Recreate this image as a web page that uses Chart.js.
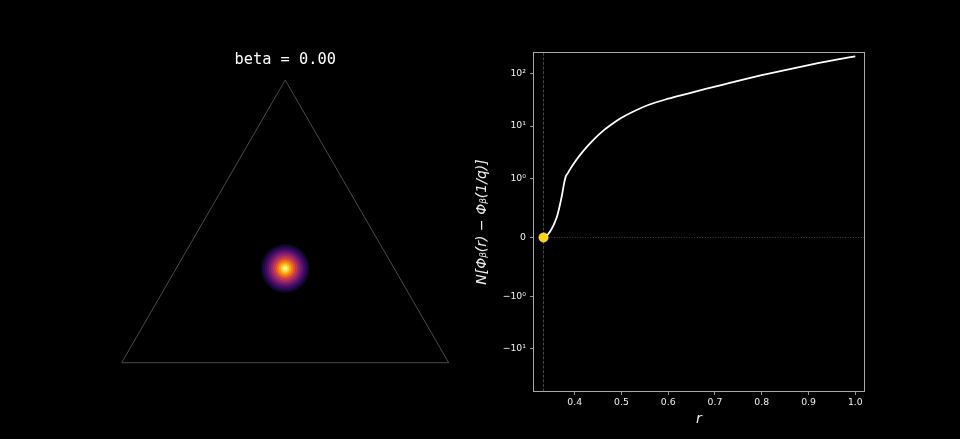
<!DOCTYPE html>
<html><head><meta charset="utf-8">
<script src="https://cdn.jsdelivr.net/npm/chart.js@4/dist/chart.umd.min.js"></script>
<style>
html,body{margin:0;padding:0;background:#000;width:960px;height:439px;overflow:hidden}
canvas{position:absolute;left:0;top:0}
</style></head><body>
<canvas id="left" width="960" height="439"></canvas>
<canvas id="right" width="960" height="439"></canvas>
<script>
// ---------- data ----------
const betaTitle = 'beta = 0.00';
// simplex (ternary) outline
const simplexX = [0, 1, 0.5, 0];
const simplexY = [0, 0, 0.866, 0];
// density blob on the simplex (radial profile)
const blobCenterX = 0.5, blobCenterY = 0.2887;
const blobRadius = [0.074, 0.068, 0.062, 0.056, 0.050, 0.044, 0.038, 0.031, 0.025, 0.019, 0.013, 0.007];
const blobLevel  = [0.07, 0.13, 0.19, 0.26, 0.33, 0.41, 0.50, 0.60, 0.70, 0.80, 0.89, 0.97];

// right panel curve
const rValues = [0.3333, 0.338, 0.343, 0.348, 0.353, 0.358, 0.363, 0.368, 0.373, 0.3775, 0.3808, 0.385, 0.390, 0.400, 0.410, 0.425, 0.440, 0.460, 0.480, 0.500, 0.530, 0.560, 0.600, 0.640, 0.680, 0.720, 0.760, 0.800, 0.840, 0.880, 0.920, 0.960, 1.000];
const phiDiff = [0, 0.02, 0.055, 0.11, 0.18, 0.27, 0.38, 0.54, 0.73, 0.93, 1.10, 1.27, 1.51, 2.06, 2.72, 3.93, 5.48, 8.01, 10.9, 14.3, 19.7, 25.6, 32.9, 40.8, 50.3, 61.8, 75.7, 91.8, 110, 131, 155, 181, 209];
const refR = 1 / 3;          // r = 1/q
const refValue = 0;
const xTicks = [0.4, 0.5, 0.6, 0.7, 0.8, 0.9, 1.0];
const yTicks = [-10, -1, 0, 1, 10, 100];
const yTickLabels = ['\u221210\u00b9', '\u221210\u2070', '0', '10\u2070', '10\u00b9', '10\u00b2'];
const xMin = 0.3119, xMax = 1.0197, yMin = -63.9, yMax = 247;

// ---------- helpers ----------
const infernoStops = [[0,'#000004'],[0.1,'#160b39'],[0.2,'#420a68'],[0.3,'#6a176e'],[0.4,'#932667'],[0.5,'#bc3754'],[0.6,'#dd513a'],[0.7,'#f37819'],[0.8,'#fca50a'],[0.9,'#f6d746'],[1,'#fcffa4']];
function hex2rgb(h){return [parseInt(h.slice(1,3),16),parseInt(h.slice(3,5),16),parseInt(h.slice(5,7),16)];}
function inferno(t){
  t = Math.max(0, Math.min(1, t));
  for (let i = 1; i < infernoStops.length; i++) {
    if (t <= infernoStops[i][0]) {
      const [t0,c0] = infernoStops[i-1], [t1,c1] = infernoStops[i];
      const f = (t - t0) / (t1 - t0), a = hex2rgb(c0), b = hex2rgb(c1);
      return 'rgb(' + a.map((v,k)=>Math.round(v + (b[k]-v)*f)).join(',') + ')';
    }
  }
  return infernoStops[infernoStops.length-1][1];
}

// symlog transform (linthresh = 1, linscale = 1, base 10) as matplotlib
const LINSCALE_ADJ = 1 / (1 - 1/10);
function symT(v){ const a = Math.abs(v); return a <= 1 ? v * LINSCALE_ADJ : Math.sign(v) * (LINSCALE_ADJ + Math.log10(a)); }
function symInv(t){ const a = Math.abs(t); return a <= LINSCALE_ADJ ? t / LINSCALE_ADJ : Math.sign(t) * Math.pow(10, a - LINSCALE_ADJ); }

class SymlogScale extends Chart.LinearScale {
  static id = 'symlog';
  static defaults = Chart.LinearScale.defaults;
  buildTicks(){ return yTicks.map(v => ({value: v})); }
  configure(){ super.configure(); this._t0 = symT(this.min); this._t1 = symT(this.max); }
  getPixelForValue(v){ return this.getPixelForDecimal((symT(v) - this._t0) / (this._t1 - this._t0)); }
  getValueForPixel(p){ return symInv(this._t0 + this.getDecimalForPixel(p) * (this._t1 - this._t0)); }
}
Chart.register(SymlogScale);

Chart.defaults.font.family = 'DejaVu Sans';
Chart.defaults.color = '#eeeeee';
Chart.defaults.animation = false;

// ---------- left panel ----------
new Chart(document.getElementById('left'), {
  type: 'scatter',
  data: {
    datasets: [
      {
        label: 'blob',
        data: blobRadius.map(() => ({x: blobCenterX, y: blobCenterY})),
        pointRadius: ctx => {
          const s = ctx.chart.scales.x;
          return s.getPixelForValue(blobCenterX + blobRadius[ctx.dataIndex]) - s.getPixelForValue(blobCenterX);
        },
        pointHoverRadius: 0,
        pointBackgroundColor: ctx => inferno(blobLevel[ctx.dataIndex]),
        pointBorderWidth: 0,
        order: 2
      },
      {
        label: 'simplex',
        data: simplexX.map((x, i) => ({x, y: simplexY[i]})),
        showLine: true,
        borderColor: '#4a4a4a',
        borderWidth: 1,
        pointRadius: 0,
        clip: false,
        order: 1
      }
    ]
  },
  options: {
    responsive: false,
    layout: { padding: { left: 121.7, right: 511.3, top: 40, bottom: 76.3 } },
    scales: {
      x: { type: 'linear', min: 0, max: 1, display: false },
      y: { type: 'linear', min: 0, max: 0.866, display: false }
    },
    plugins: {
      legend: { display: false },
      tooltip: { enabled: false },
      title: {
        display: true, text: betaTitle, color: '#ffffff',
        font: { family: 'DejaVu Sans Mono', size: 15.3, weight: 'normal', lineHeight: 1.2 },
        padding: { top: 10.6, bottom: 11.04 }
      }
    }
  }
});

// ---------- right panel ----------
const framePlugin = {
  id: 'frame',
  afterDatasetsDraw(chart) {
    const {ctx, chartArea: a} = chart;
    ctx.save();
    ctx.strokeStyle = '#a8a8a8';
    ctx.lineWidth = 1;
    ctx.strokeRect(a.left, a.top, a.right - a.left, a.bottom - a.top);
    ctx.restore();
  }
};

new Chart(document.getElementById('right'), {
  type: 'scatter',
  data: {
    datasets: [
      {
        label: 'point',
        data: [{x: refR, y: refValue}],
        pointRadius: 4.6,
        pointBackgroundColor: '#ffd400',
        pointBorderColor: '#fff2a0',
        pointBorderWidth: 0.7,
        order: 0
      },
      {
        label: 'curve',
        data: rValues.map((r, i) => ({x: r, y: phiDiff[i]})),
        showLine: true,
        borderColor: '#ffffff',
        borderWidth: 1.8,
        pointRadius: 0,
        cubicInterpolationMode: 'monotone',
        order: 1
      },
      {
        label: 'vline',
        data: [{x: refR, y: yMin}, {x: refR, y: yMax}],
        showLine: true,
        borderColor: '#5a5a5a',
        borderWidth: 0.8,
        borderDash: [3, 1.6],
        pointRadius: 0,
        order: 3
      },
      {
        label: 'hline',
        data: [{x: refR, y: refValue}, {x: xMax, y: refValue}],
        showLine: true,
        borderColor: '#555555',
        borderWidth: 0.8,
        borderDash: [1, 1.6],
        pointRadius: 0,
        order: 4
      }
    ]
  },
  options: {
    responsive: false,
    layout: { padding: { left: 473.5, right: 95.5, top: 52.5, bottom: 7.5 } },
    scales: {
      x: {
        type: 'linear', min: xMin, max: xMax,
        afterBuildTicks: s => { s.ticks = xTicks.map(v => ({value: v})); },
        afterFit: s => { s.height = 40; },
        ticks: { callback: v => v.toFixed(1), font: { size: 9.3 }, color: '#eeeeee', padding: 2.5, maxRotation: 0, autoSkip: false },
        grid: { drawOnChartArea: false, drawTicks: true, tickLength: 3.5, tickColor: '#bbbbbb', tickWidth: 0.8 },
        border: { display: false },
        title: { display: true, text: 'r', color: '#eeeeee', font: { size: 14, style: 'italic' }, padding: { top: 0, bottom: 3.3 } }
      },
      y: {
        type: 'symlog', min: yMin, max: yMax,
        afterFit: s => { s.width = 60; },
        ticks: { callback: v => { const i = yTicks.indexOf(v); return i >= 0 ? yTickLabels[i] : ''; }, font: { size: 9.3 }, color: '#eeeeee', padding: 4, autoSkip: false },
        grid: { drawOnChartArea: false, drawTicks: true, tickLength: 3.5, tickColor: '#bbbbbb', tickWidth: 0.8 },
        border: { display: false },
        title: { display: true, text: 'N[\u03a6\u1d66(r) \u2212 \u03a6\u1d66(1/q)]', color: '#eeeeee', font: { size: 14, style: 'italic' }, padding: { top: 0, bottom: 0 } }
      }
    },
    plugins: { legend: { display: false }, tooltip: { enabled: false } }
  },
  plugins: [framePlugin]
});
</script>
</body></html>
